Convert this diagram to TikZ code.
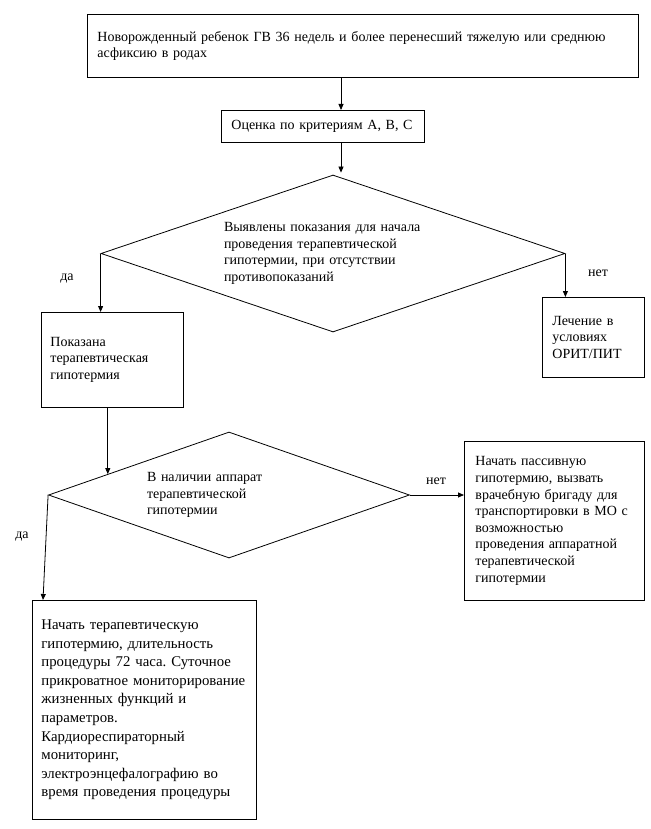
\documentclass[tikz,border=0pt]{standalone}
\usepackage{fontspec}
\setmainfont{Liberation Serif}
\usetikzlibrary{shapes.geometric,arrows.meta,calc}
\frenchspacing
\begin{document}
\begin{tikzpicture}[x=1pt,y=-1pt,
  txt/.style={font=\fontsize{14}{16.6}\selectfont},
  box/.style={txt,draw,line width=0.8pt,rectangle,inner ysep=0pt,align=left,anchor=north west},
  dec/.style={txt,draw,line width=0.8pt,diamond,aspect=3,inner sep=0pt,align=left},
  arr/.style={line width=0.8pt,-{Triangle[length=6pt,width=5pt]}},
  lbl/.style={txt,inner sep=0pt}]
\useasboundingbox (0,0) rectangle (650,829);
\fill[white] (0,0) rectangle (650,829);

\node[box,inner xsep=10pt,minimum width=551pt,minimum height=63pt,text width=531pt] (b1) at (87,14)
  {Новорожденный ребенок ГВ 36 недель и более перенесший тяжелую или среднюю\\асфиксию в родах};
\node[box,inner xsep=10pt,minimum width=203pt,minimum height=32pt,text width=183pt] (b2) at (221,110)
  {Оценка по критериям А, В, С};
\node[dec,minimum width=464pt,minimum height=157pt,text width=218pt] (d1) at (333,253.5)
  {Выявлены показания для начала\\проведения терапевтической\\гипотермии, при отсутствии\\противопоказаний};
\node[box,inner xsep=9pt,minimum width=142pt,minimum height=95pt,text width=124pt] (b3) at (41,312)
  {Показана\\терапевтическая\\гипотермия};
\node[box,inner xsep=10pt,minimum width=102pt,minimum height=80pt,text width=82pt] (b4) at (542,297)
  {Лечение в\\условиях\\ОРИТ/ПИТ};
\node[dec,minimum width=361pt,minimum height=126pt,text width=164pt] (d2) at (229,495)
  {В наличии аппарат\\терапевтической\\гипотермии};
\node[box,inner xsep=11pt,minimum width=180pt,minimum height=159pt,text width=158pt] (b5) at (464,441)
  {Начать пассивную\\гипотермию, вызвать\\врачебную бригаду для\\транспортировки в МО с\\возможностью\\проведения аппаратной\\терапевтической\\гипотермии};
\node[box,inner xsep=9pt,minimum width=224pt,minimum height=219pt,text width=206pt,font=\fontsize{14.8}{18.6}\selectfont] (b6) at (32,600)
  {Начать терапевтическую\\гипотермию, длительность\\процедуры 72 часа. Суточное\\прикроватное~мониторирование\\жизненных функций и\\параметров.\\Кардиореспираторный\\мониторинг,\\электроэнцефалографию во\\время проведения процедуры};

\node[lbl] (l1) at (67,279) {да};
\node[lbl] (l2) at (598,273) {нет};
\node[lbl] (l3) at (436,481) {нет};
\node[lbl] (l4) at (22,537) {да};

\coordinate (cx) at (341,0);
\coordinate (e2) at ($(d2.west)!0.33!(d2.north)$);

\draw[arr] (b1.south -| cx) -- (b2.north -| cx);
\draw[arr] (b2.south -| cx) -- ($(d1.north -| cx)+(0,-2)$);
\draw[arr] (d1.west) -- (d1.west |- b3.north);
\draw[arr] (d1.east) -- (d1.east |- b4.north);
\draw[arr] (b3.south -| e2) -- (e2);
\draw[arr] (d2.east) -- (d2.east -| b5.west);
\draw[arr] (d2.west) -- ($(b6.north west)+(11,0)$);
\end{tikzpicture}
\end{document}
